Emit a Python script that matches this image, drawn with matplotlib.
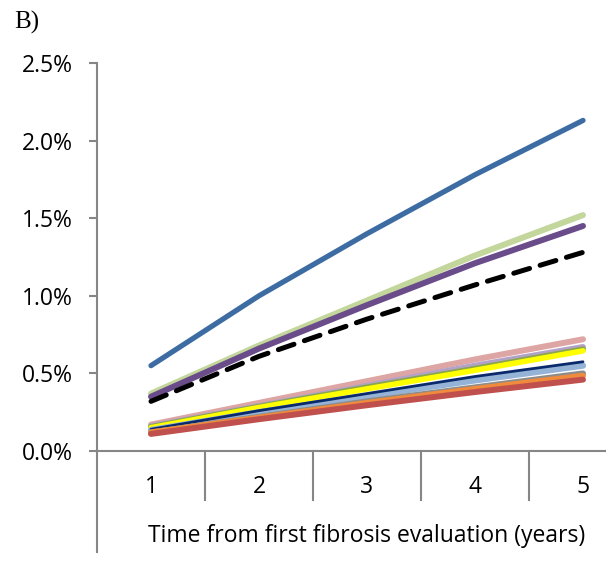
import matplotlib.pyplot as plt
from matplotlib.ticker import PercentFormatter

years = [1, 2, 3, 4, 5]

# risk (%) per line, top to bottom
blue = [0.55, 1.00, 1.40, 1.78, 2.13]
light_green = [0.37, 0.68, 0.97, 1.26, 1.52]
purple = [0.35, 0.66, 0.94, 1.21, 1.45]
overall = [0.32, 0.61, 0.85, 1.07, 1.28]

pink = [0.17, 0.31, 0.45, 0.59, 0.72]
lavender = [0.16, 0.29, 0.42, 0.55, 0.67]
olive = [0.155, 0.285, 0.41, 0.53, 0.655]
yellow = [0.15, 0.28, 0.40, 0.52, 0.645]
light_blue = [0.135, 0.25, 0.355, 0.455, 0.55]
navy = [0.14, 0.26, 0.37, 0.48, 0.575]
grey = [0.12, 0.22, 0.32, 0.41, 0.50]
orange = [0.12, 0.215, 0.31, 0.40, 0.485]
red = [0.11, 0.205, 0.295, 0.38, 0.46]

W, H = 606, 562
fig = plt.figure(figsize=(W / 100, H / 100), dpi=100)
ax = fig.add_axes([97 / W, (H - 451) / H, 540 / W, 388 / H])

kw = dict(solid_capstyle='round', solid_joinstyle='round')
ax.plot(years, pink, color='#DDA5A3', lw=4.3, **kw)
ax.plot(years, lavender, color='#B3A2C7', lw=4.3, **kw)
ax.plot(years, olive, color='#8AA64C', lw=4.3, **kw)
ax.plot(years, yellow, color='#FFFF00', lw=4.0, **kw)
ax.plot(years, light_blue, color='#95B3D7', lw=4.5, **kw)
ax.plot(years, navy, color='#0A2A6B', lw=2.0, **kw)
ax.plot(years, grey, color='#8C8C8C', lw=4.3, **kw)
ax.plot(years, orange, color='#F08A3C', lw=4.3, **kw)
ax.plot(years, red, color='#C0504D', lw=4.3, **kw)

ax.plot(years, light_green, color='#C3D69B', lw=4.3, **kw)
ax.plot(years, purple, color='#6A4C8A', lw=4.3, **kw)
ax.plot(years, overall, color='black', lw=3.6, linestyle=(0, (3.3, 2.2)),
        dash_capstyle='round')
ax.plot(years, blue, color='#3D6CA3', lw=3.8, **kw)

ax.set_xlim(0.5, 5.5)
ax.set_ylim(0, 2.5)
ax.set_yticks([0, 0.5, 1.0, 1.5, 2.0, 2.5])
ax.yaxis.set_major_formatter(PercentFormatter(100, decimals=1))

axis_col = '#868686'
for s in ['top', 'right', 'left']:
    ax.spines[s].set_visible(False)
ax.spines['bottom'].set_color(axis_col)
ax.spines['bottom'].set_linewidth(1.5)

# long left axis line reaching below the category labels
ax.plot([0, 0], [1, -101 / 388], transform=ax.transAxes, color=axis_col,
        lw=1.5, clip_on=False)
# category dividers below the horizontal axis
for xb in [1.5, 2.5, 3.5, 4.5]:
    ax.plot([xb, xb], [0, -49 / 388 * 2.5], color=axis_col, lw=1.5,
            clip_on=False)

ax.tick_params(axis='y', length=6, width=1.5, color=axis_col, labelsize=16.5,
               pad=11.5)
ax.set_xticks(years)
ax.tick_params(axis='x', length=0, labelsize=16.5, pad=17)
for lab in ax.get_xticklabels() + ax.get_yticklabels():
    lab.set_family('Open Sans')

ax.set_xlabel('Time from first fibrosis evaluation (years)', fontsize=16.5,
              family='Open Sans', labelpad=18)

fig.text(14 / W, 1 - 22 / H, 'B)', fontsize=18, family='Liberation Serif',
         va='center', ha='left')

fig.savefig('out.png', dpi=100)
